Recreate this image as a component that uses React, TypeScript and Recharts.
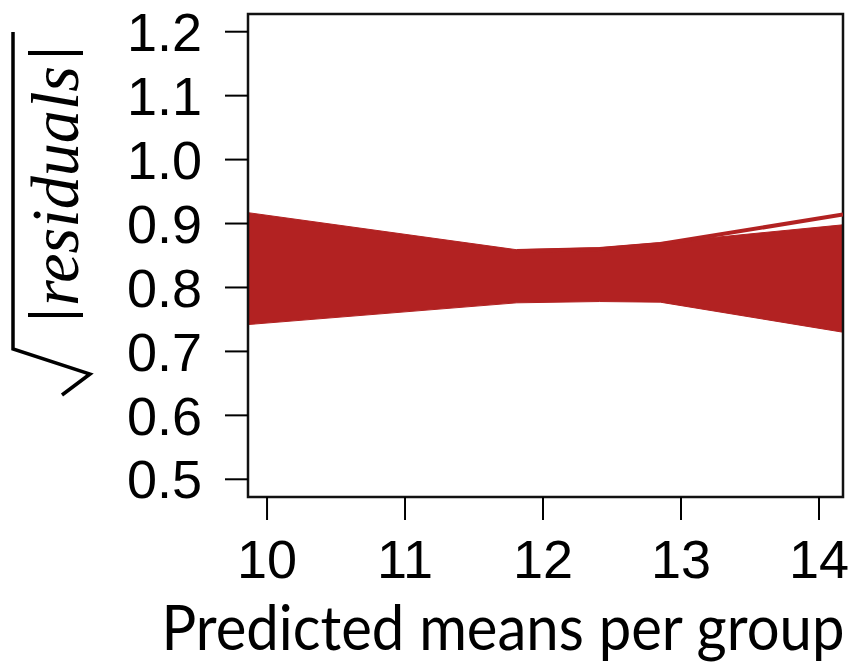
import React from 'react';
import { ComposedChart, Area, Line, XAxis, YAxis, ReferenceArea } from 'recharts';

// knots along the x axis (predicted means)
const knots = [9.862, 11.81, 12.41, 12.85, 14.174];
// lower / upper edge of the dense bundle of simulated lines
const lower = [0.742, 0.776, 0.778, 0.777, 0.73];
const upper = [0.917, 0.859, 0.862, 0.87, 0.898];
// the single line that splits off at the top right
const topLine = [null, 0.857, 0.86, 0.868, 0.914];

const xTicks = [10, 11, 12, 13, 14];
const yTicks = [0.5, 0.6, 0.7, 0.8, 0.9, 1.0, 1.1, 1.2];
const xDomain = [9.862, 14.174];
const yDomain = [0.4723, 1.2277];

const RED = '#B22222';

const data = knots.map((x, i) => ({
  x,
  band: [lower[i], upper[i]],
  top: topLine[i],
}));

const tickFont = { fill: '#000', fontSize: 54, fontFamily: 'Liberation Sans, Arial, sans-serif' };

const renderXLabel = () => (
  <text
    x={503}
    y={650}
    textAnchor="middle"
    fontFamily="Lato, 'Open Sans', sans-serif"
    fontSize={62}
    fill="#000"
    textLength={683}
    lengthAdjust="spacingAndGlyphs"
  >
    Predicted means per group
  </text>
);

const renderYLabel = () => (
  <g>
    <path d="M13 32 L13 349 L90 374 L62 395" fill="none" stroke="#000" strokeWidth={3.5} strokeLinejoin="miter" />
    <line x1={28} x2={83} y1={53} y2={53} stroke="#000" strokeWidth={4} />
    <line x1={28} x2={83} y1={315} y2={315} stroke="#000" strokeWidth={4} />
    <text
      x={78}
      y={186}
      transform="rotate(-90 78 186)"
      textAnchor="middle"
      fontFamily="'Liberation Serif', 'Times New Roman', serif"
      fontStyle="italic"
      fontSize={68}
      fill="#000"
      textLength={240}
      lengthAdjust="spacingAndGlyphs"
    >
      residuals
    </text>
  </g>
);

export default function App() {
  return (
    <div style={{ position: 'absolute', left: 0, top: 0, background: '#fff' }}>
      <ComposedChart width={854} height={663} data={data} margin={{ top: 14, right: 11, left: 0, bottom: 0 }}>
        <XAxis
          dataKey="x"
          type="number"
          domain={xDomain}
          ticks={xTicks}
          interval={0}
          allowDataOverflow
          height={166}
          axisLine={false}
          tickSize={23}
          tickMargin={20}
          tickLine={{ stroke: '#000', strokeWidth: 2 }}
          tick={tickFont}
          label={renderXLabel}
        />
        <YAxis
          type="number"
          domain={yDomain}
          ticks={yTicks}
          interval={0}
          allowDataOverflow
          width={248}
          axisLine={false}
          tickSize={23}
          tickMargin={23}
          tickLine={{ stroke: '#000', strokeWidth: 2 }}
          tick={tickFont}
          tickFormatter={(v: number) => v.toFixed(1)}
          label={renderYLabel}
        />
        <Area
          dataKey="band"
          type="linear"
          fill={RED}
          fillOpacity={1}
          stroke={RED}
          strokeWidth={1}
          isAnimationActive={false}
        />
        <Line
          dataKey="top"
          type="linear"
          stroke={RED}
          strokeWidth={4}
          dot={false}
          isAnimationActive={false}
        />
        <ReferenceArea
          x1={xDomain[0]}
          x2={xDomain[1]}
          y1={yDomain[0]}
          y2={yDomain[1]}
          fill="none"
          fillOpacity={0}
          stroke="#111"
          strokeWidth={2.5}
        />
      </ComposedChart>
    </div>
  );
}
